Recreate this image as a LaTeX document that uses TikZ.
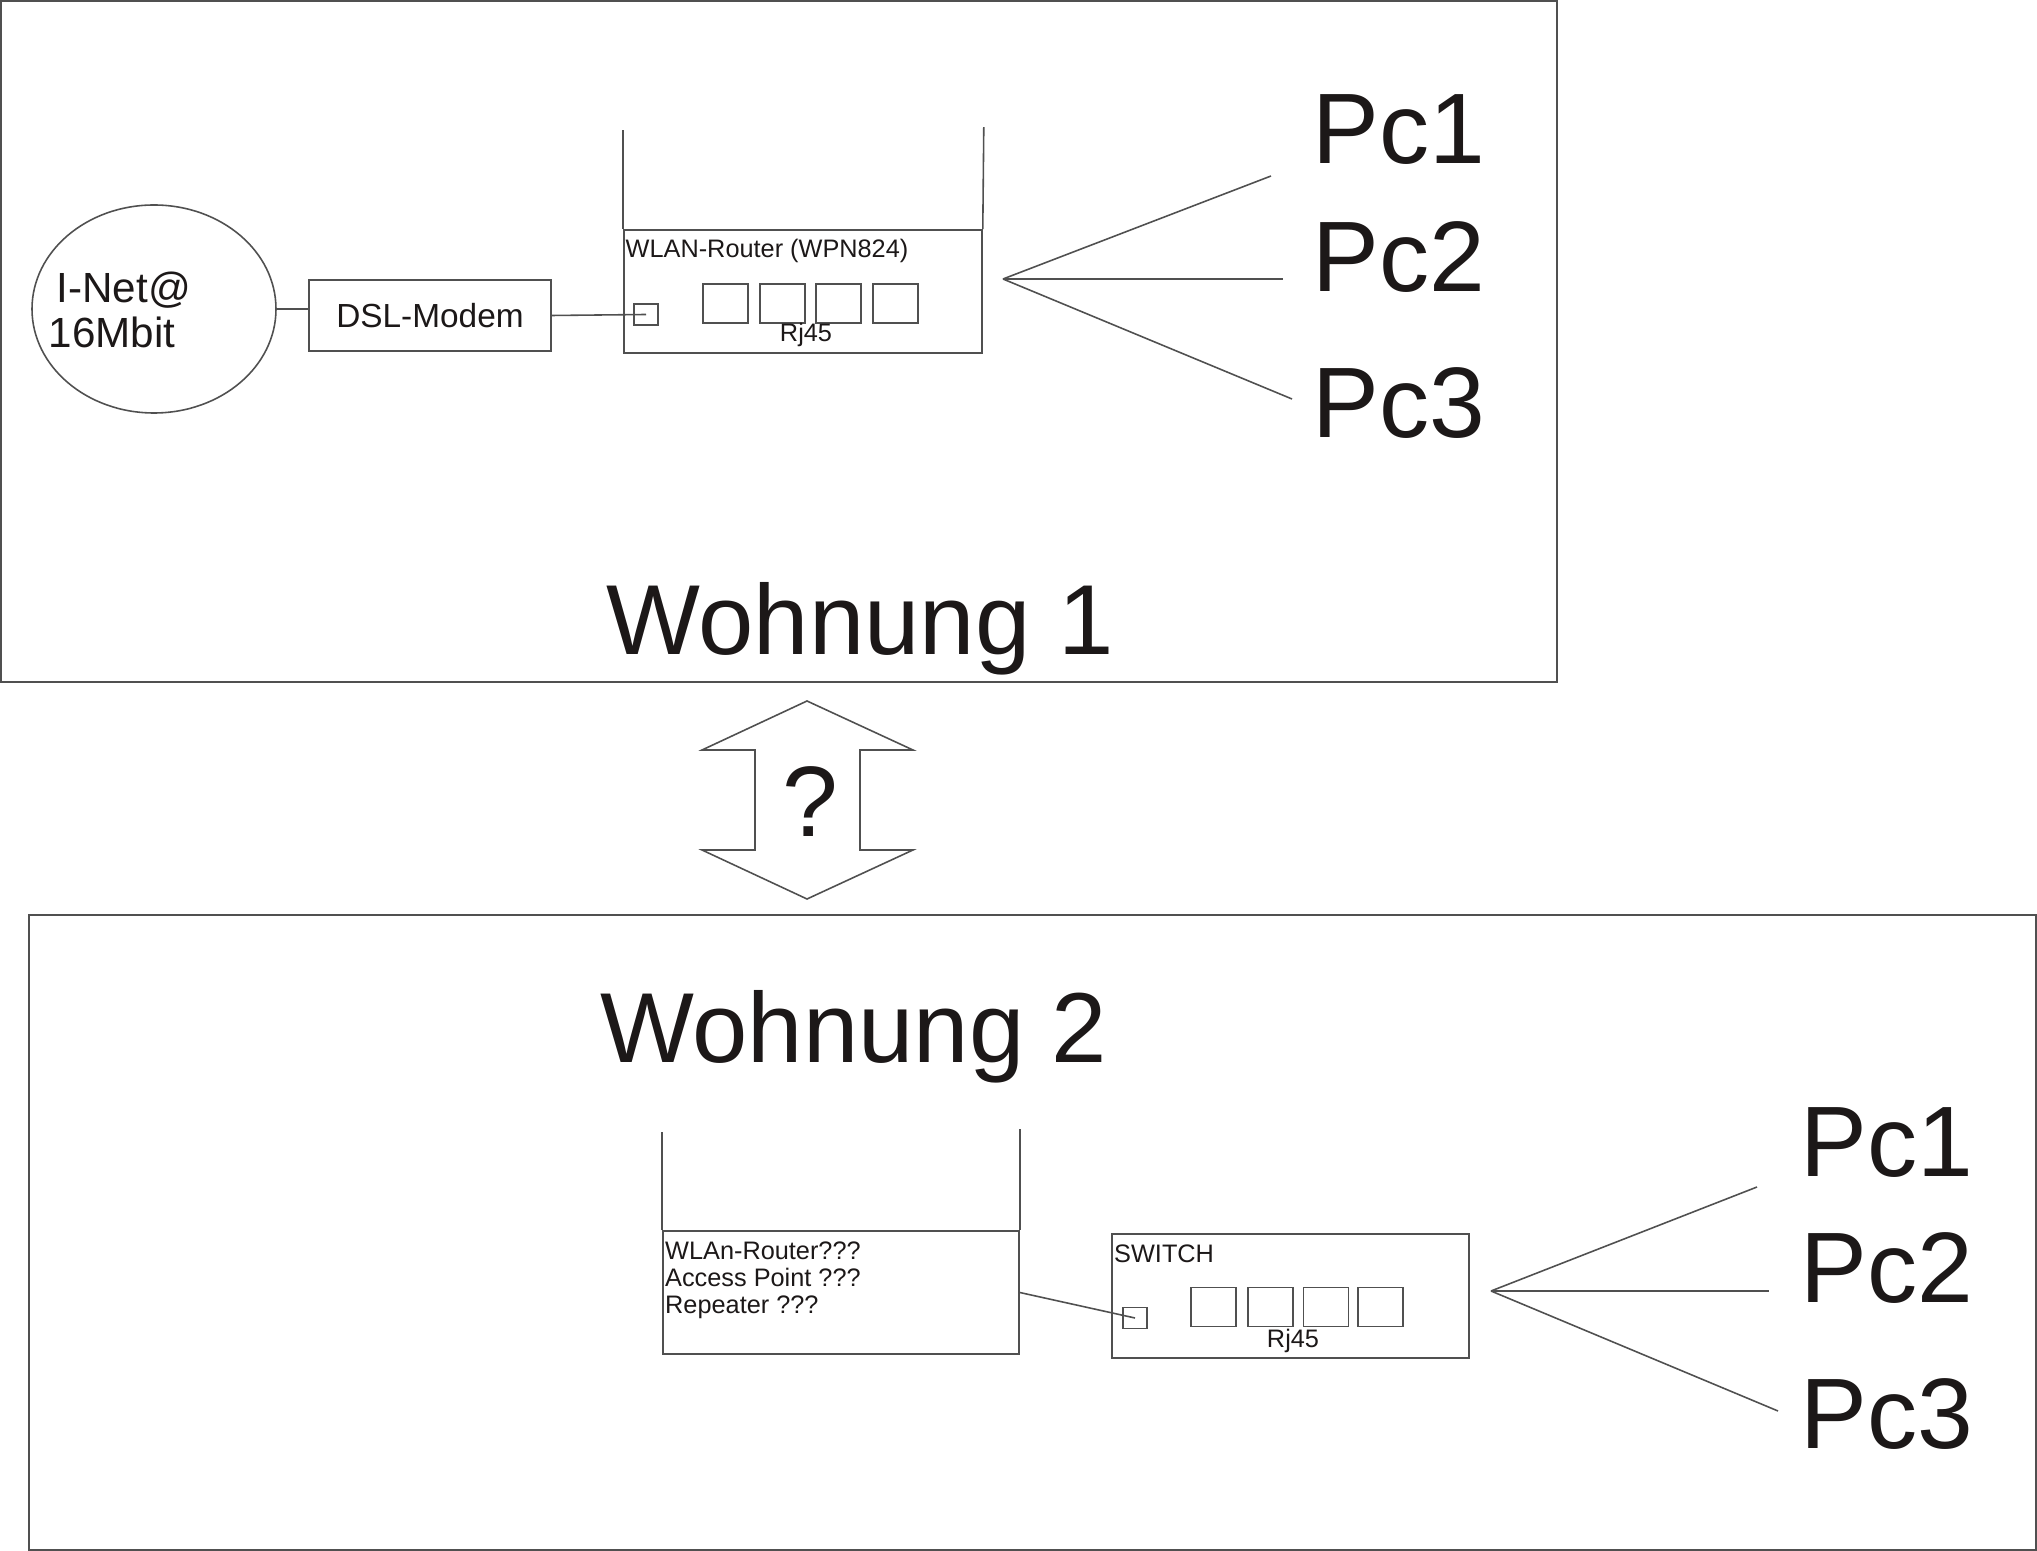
\documentclass[tikz,border=0pt]{standalone}
\usepackage{fontspec}
\setmainfont{Liberation Sans}
\usetikzlibrary{shapes.geometric}

\definecolor{strich}{RGB}{80,80,80}
\definecolor{schrift}{RGB}{28,24,24}

\tikzset{
  kabel/.style={draw=strich, line width=0.45pt},
  rahmen/.style={draw=strich, line width=0.6pt},
  box/.style={draw=strich, line width=0.45pt, rectangle, inner sep=0pt},
  buchse/.style={box, minimum width=0.45cm, minimum height=0.39cm},
  uplink/.style={box, minimum width=0.24cm, minimum height=0.21cm},
  gross/.style={text=schrift, inner sep=0pt, font=\fontsize{28.5}{34}\selectfont},
  mittel/.style={text=schrift, inner sep=0pt, font=\fontsize{12}{13}\selectfont},
  klein/.style={text=schrift, inner sep=0pt, font=\fontsize{7.2}{7.7}\selectfont}
}

\begin{document}
\begin{tikzpicture}[x=1cm,y=-1cm]
\useasboundingbox (0,0) rectangle (20.37,15.51);

% ===== Wohnung 1 =====
\draw[rahmen] (0.01,0.01) rectangle (15.57,6.82);

% Internet + Modem
\node[ellipse, draw=strich, line width=0.45pt, inner sep=0pt,
      minimum width=2.44cm, minimum height=2.08cm] (inet) at (1.54,3.09) {};
\node[mittel, anchor=north west, align=left] (inettext) at (0.48,2.71)
  {\hspace{0.08cm}I-Net@\\16Mbit};
\node[box, minimum width=2.42cm, minimum height=0.71cm, text=schrift,
      font=\fontsize{9.5}{11}\selectfont] (dsl) at (4.30,3.155) {DSL-Modem};

% Router mit Antennen
\node[box, minimum width=3.58cm, minimum height=1.23cm] (router1) at (8.03,2.915) {};
\draw[kabel] (router1.north west) -- ++(0,-0.99);
\draw[kabel] (router1.north east) -- ++(0.01,-1.02);
\node[klein, anchor=base west] (router1text) at (6.25,2.58) {WLAN-Router (WPN824)};
\node[uplink] (up1) at (6.46,3.145) {};
\foreach \i/\x in {1/7.255,2/7.825,3/8.385,4/8.955}
  \node[buchse] (rjA\i) at (\x,3.035) {};
\node[klein, anchor=base] (rjAtext) at (8.06,3.42) {Rj45};

\draw[kabel] (inet.east) -- (inet.east -| dsl.west);
\draw[kabel] (dsl.east) -- (up1.center);

% Verteilung auf die PCs
\coordinate (sternA) at (10.03,2.79);
\coordinate (endA1) at (12.71,1.76);
\coordinate (endA2) at (12.83,2.79);
\coordinate (endA3) at (12.92,3.99);
\foreach \i in {1,2,3}
  \draw[kabel] (sternA) -- (endA\i);

\node[gross, anchor=base west] (pcA1) at (13.12,1.64) {Pc1};
\node[gross, anchor=base west] (pcA2) at (13.12,2.92) {Pc2};
\node[gross, anchor=base west] (pcA3) at (13.12,4.38) {Pc3};

\node[gross, anchor=base, font=\fontsize{28.3}{34}\selectfont] (wohnung1) at (8.60,6.55) {Wohnung 1};

% ===== Doppelpfeil =====
\draw[kabel] (8.07,7.01) -- (9.13,7.50) -- (8.60,7.50) -- (8.60,8.50) -- (9.13,8.50)
  -- (8.07,8.99) -- (7.02,8.50) -- (7.55,8.50) -- (7.55,7.50) -- (7.02,7.50) -- cycle;
\node[gross, anchor=base] (frage) at (8.10,8.37) {?};

% ===== Wohnung 2 =====
\draw[rahmen] (0.29,9.15) rectangle (20.36,15.50);

\node[gross, anchor=base, font=\fontsize{28.3}{34}\selectfont] (wohnung2) at (8.54,10.63) {Wohnung 2};

% Router / AP / Repeater
\node[box, minimum width=3.56cm, minimum height=1.23cm] (router2) at (8.41,12.925) {};
\draw[kabel] (router2.north west) -- ++(0,-0.98);
\draw[kabel] (router2.north east) -- ++(0,-1.01);
\node[klein, anchor=north west, align=left] (router2text) at (6.645,12.415)
  {WLAn-Router???\\Access Point ???\\Repeater ???};

% Switch
\node[box, minimum width=3.57cm, minimum height=1.24cm] (switch) at (12.905,12.96) {};
\node[klein, anchor=base west] (switchtext) at (11.135,12.62) {SWITCH};
\node[uplink] (up2) at (11.35,13.18) {};
\foreach \i/\x in {1/12.135,2/12.705,3/13.26,4/13.805}
  \node[buchse] (rjB\i) at (\x,13.07) {};
\node[klein, anchor=base] (rjBtext) at (12.93,13.48) {Rj45};

\draw[kabel] (router2.east) -- (up2.center);

% Verteilung auf die PCs
\coordinate (sternB) at (14.91,12.91);
\coordinate (endB1) at (17.57,11.87);
\coordinate (endB2) at (17.69,12.91);
\coordinate (endB3) at (17.78,14.11);
\foreach \i in {1,2,3}
  \draw[kabel] (sternB) -- (endB\i);

\node[gross, anchor=base west] (pcB1) at (18.00,11.77) {Pc1};
\node[gross, anchor=base west] (pcB2) at (18.00,13.03) {Pc2};
\node[gross, anchor=base west] (pcB3) at (18.00,14.48) {Pc3};

\end{tikzpicture}
\end{document}
